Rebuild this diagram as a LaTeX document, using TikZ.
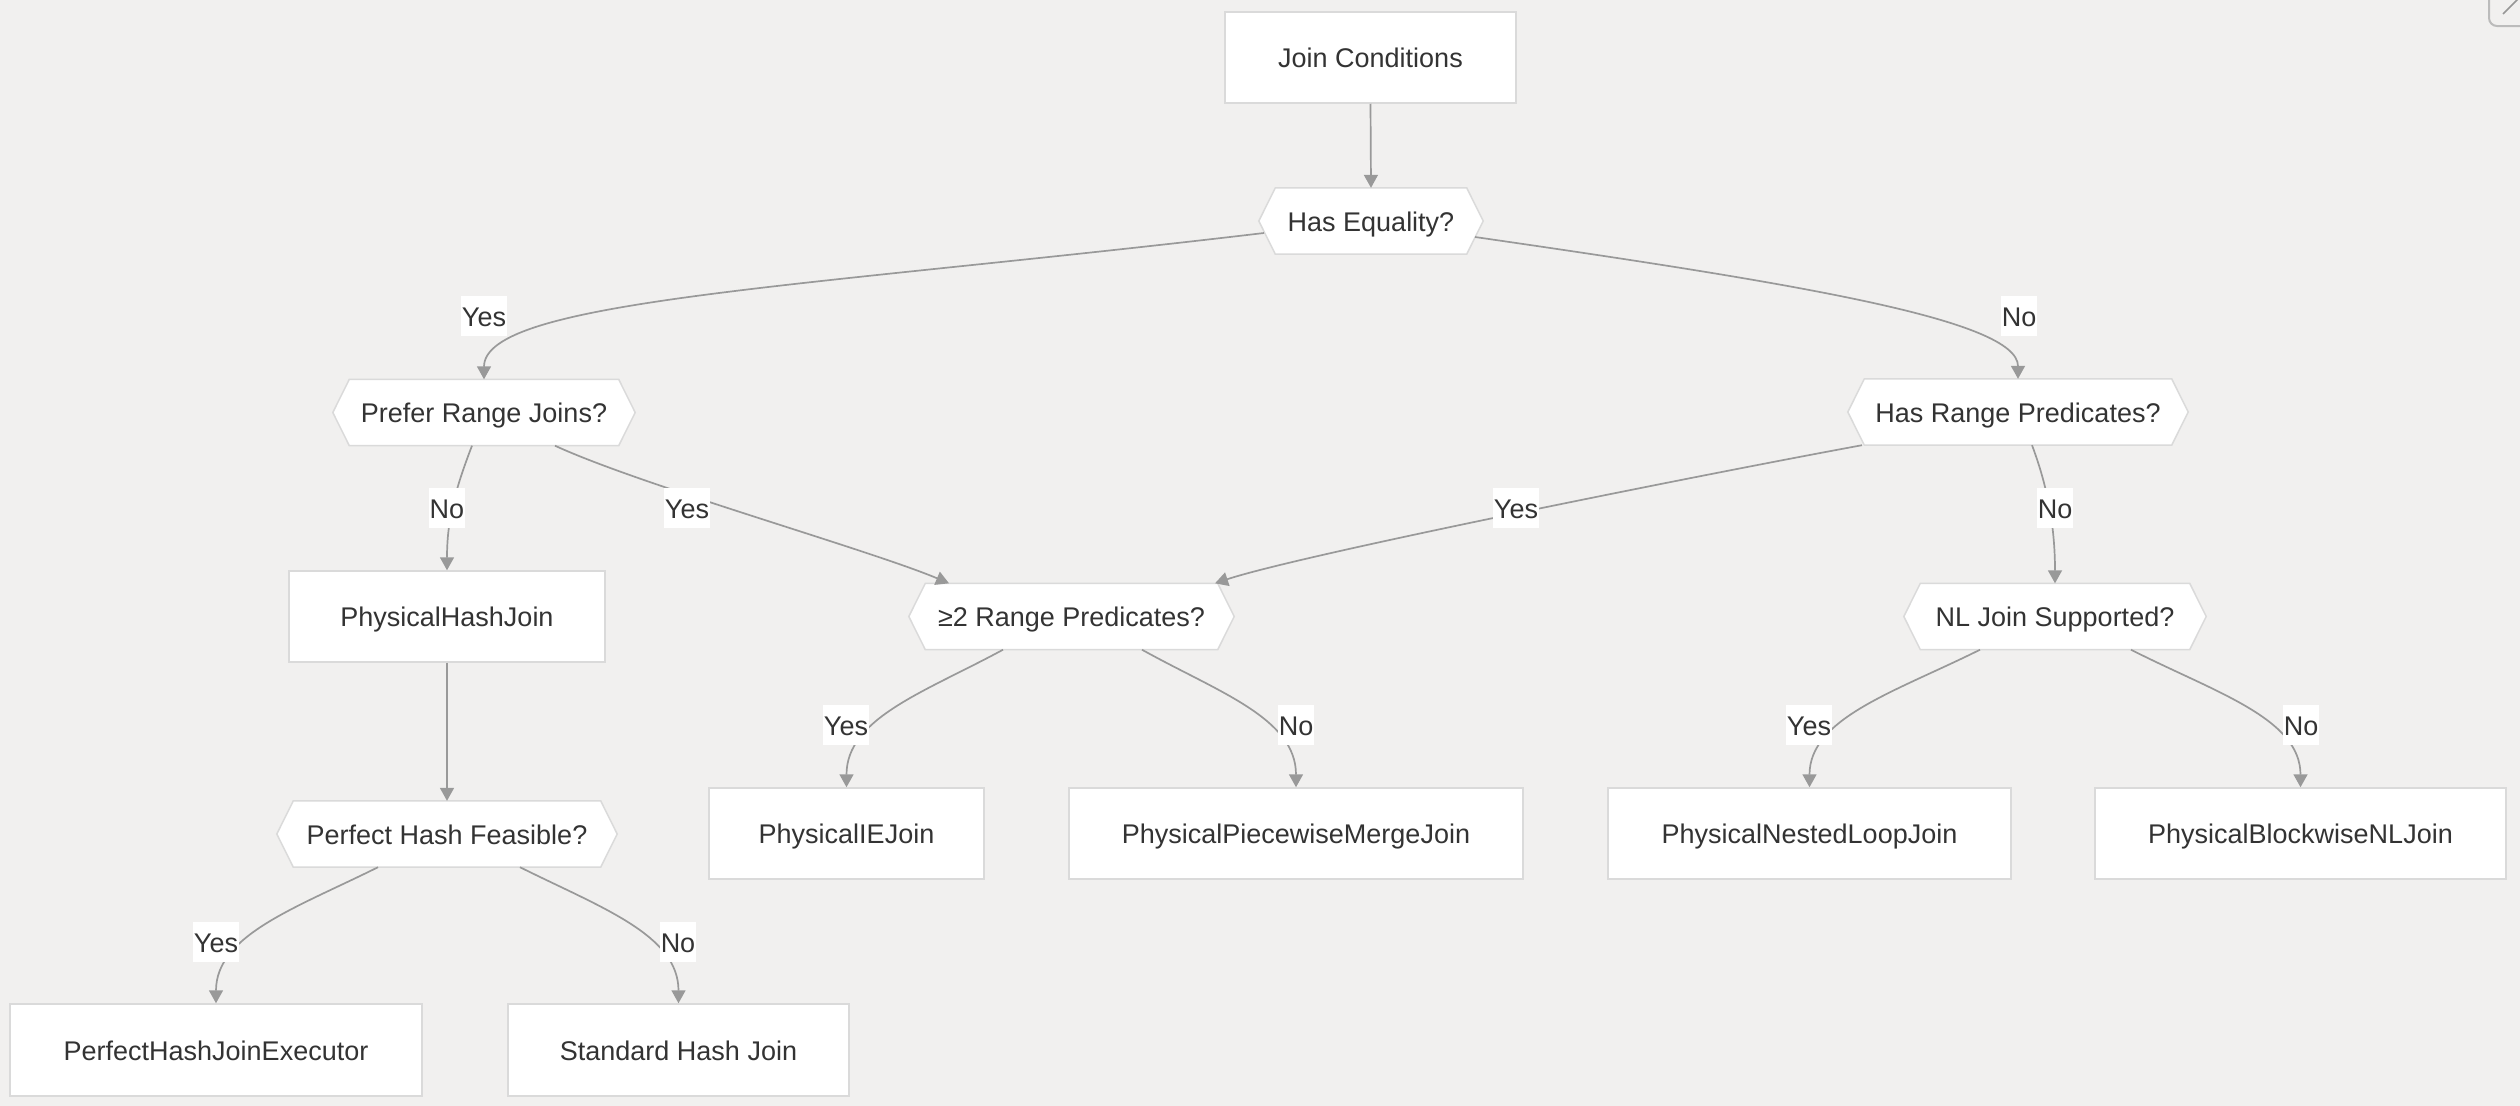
\documentclass[tikz,border=0pt]{standalone}
\usepackage{fontspec}
\setmainfont{Liberation Sans}
\usetikzlibrary{arrows.meta}
\definecolor{bgc}{HTML}{F1F0EF}
\definecolor{edgec}{HTML}{999999}
\definecolor{bordc}{HTML}{DADADA}
\definecolor{txtc}{HTML}{333333}
\definecolor{iconc}{HTML}{BBBBBB}
\pgfdeclarelayer{bg}
\pgfdeclarelayer{shp}
\pgfsetlayers{bg,shp,main}
\tikzset{
  every node/.style={font=\fontsize{27}{32}\selectfont, text=txtc, text height=20pt, text depth=0pt},
  boxnode/.style={draw=bordc, fill=white, line width=1.5pt, minimum height=91pt, inner sep=0pt},
  hexnode/.style={inner sep=0pt, minimum height=66pt},
  hexline/.style={draw=bordc, fill=white, line width=1.5pt},
  elabel/.style={fill=white, inner xsep=1pt, inner ysep=0pt, minimum height=40pt},
  conn/.style={draw=edgec, line width=1.7pt, -{Triangle[length=13pt,width=14pt]}},
}
\newcommand{\hexdraw}[1]{\path[hexline] ([xshift=16.5pt]#1.north west) -- ([xshift=-16.5pt]#1.north east) -- (#1.east) -- ([xshift=-16.5pt]#1.south east) -- ([xshift=16.5pt]#1.south west) -- (#1.west) -- cycle;}
\begin{document}
\begin{tikzpicture}[x=1pt,y=-1pt]
\useasboundingbox (0,0) rectangle (2520,1106);
\begin{pgfonlayer}{bg}
  \fill[bgc] (0,0) rectangle (2520,1106);
\end{pgfonlayer}

% nodes
\node[boxnode, minimum width=291pt] (jc) at (1370.5,57.5) {Join Conditions};
\node[hexnode, minimum width=224pt] (he) at (1371,221) {Has Equality?};
\node[hexnode, minimum width=302pt] (prj) at (484,412.5) {Prefer Range Joins?};
\node[hexnode, minimum width=340pt] (hrp) at (2018,412) {Has Range Predicates?};
\node[boxnode, minimum width=316pt] (phj) at (447,616.5) {PhysicalHashJoin};
\node[hexnode, minimum width=325pt] (rp2) at (1071.5,616.5) {≥2 Range Predicates?};
\node[hexnode, minimum width=302pt] (nls) at (2055,616.5) {NL Join Supported?};
\node[hexnode, minimum width=340pt] (phf) at (447,834) {Perfect Hash Feasible?};
\node[boxnode, minimum width=275pt] (iej) at (846.5,833.5) {PhysicalIEJoin};
\node[boxnode, minimum width=454pt] (pwm) at (1296,833.5) {PhysicalPiecewiseMergeJoin};
\node[boxnode, minimum width=403pt] (nlj) at (1809.5,833.5) {PhysicalNestedLoopJoin};
\node[boxnode, minimum width=411pt] (bnl) at (2300.5,833.5) {PhysicalBlockwiseNLJoin};
\node[boxnode, minimum width=412pt, minimum height=92pt] (phe) at (216,1050) {PerfectHashJoinExecutor};
\node[boxnode, minimum width=341pt, minimum height=92pt] (shj) at (678.5,1050) {Standard Hash Join};

\begin{pgfonlayer}{shp}
  \hexdraw{he}
  \hexdraw{prj}
  \hexdraw{hrp}
  \hexdraw{rp2}
  \hexdraw{nls}
  \hexdraw{phf}
\end{pgfonlayer}

% connectors
\draw[conn] (jc.south) -- (he.north);
\draw[conn] ([shift={(-107,12)}]he.center) .. controls (800,288) and (484,300) .. (prj.north);
\draw[conn] ([shift={(104,16)}]he.center) .. controls (1800,284) and (2018,320) .. (hrp.north);
\draw[conn] ([xshift=-12pt]prj.south) .. controls (455,490) and (447,520) .. (phj.north);
\draw[conn] ([xshift=71pt]prj.south) .. controls (640,485) and (870,550) .. ([xshift=-122.5pt]rp2.north);
\draw[conn] ([xshift=-156pt]hrp.south) .. controls (1700,475) and (1300,555) .. ([xshift=143.5pt]rp2.north);
\draw[conn] ([xshift=14pt]hrp.south) .. controls (2045,480) and (2055,520) .. (nls.north);
\draw[conn] (phj.south) -- (phf.north);
\draw[conn] ([xshift=-68.5pt]rp2.south) .. controls (925,692) and (846.5,718) .. (iej.north);
\draw[conn] ([xshift=70.5pt]rp2.south) .. controls (1218,692) and (1296,718) .. (pwm.north);
\draw[conn] ([xshift=-75pt]nls.south) .. controls (1895,692) and (1809.5,718) .. (nlj.north);
\draw[conn] ([xshift=76pt]nls.south) .. controls (2214,692) and (2300.5,718) .. (bnl.north);
\draw[conn] ([xshift=-69pt]phf.south) .. controls (296,908) and (216,935) .. (phe.north);
\draw[conn] ([xshift=73pt]phf.south) .. controls (602,908) and (678.5,935) .. (shj.north);

% edge labels
\node[elabel] (l1) at (484,316) {Yes};
\node[elabel] (l2) at (2019,316) {No};
\node[elabel] (l3) at (447,508) {No};
\node[elabel] (l4) at (687,508) {Yes};
\node[elabel] (l5) at (1516,508) {Yes};
\node[elabel] (l6) at (2055,508) {No};
\node[elabel] (l7) at (846,725) {Yes};
\node[elabel] (l8) at (1296,725) {No};
\node[elabel] (l9) at (1809,725) {Yes};
\node[elabel] (l10) at (2301,725) {No};
\node[elabel] (l11) at (216,942) {Yes};
\node[elabel] (l12) at (678,942) {No};

% corner icon
\begin{scope}
  \clip (0,0) rectangle (2520,1106);
  \draw[iconc, line width=2pt, rounded corners=8pt] (2489,-20) rectangle (2550,26);
  \draw[iconc!80!black, line width=1.5pt] (2503,14) -- (2518,-1);
\end{scope}
\end{tikzpicture}
\end{document}
